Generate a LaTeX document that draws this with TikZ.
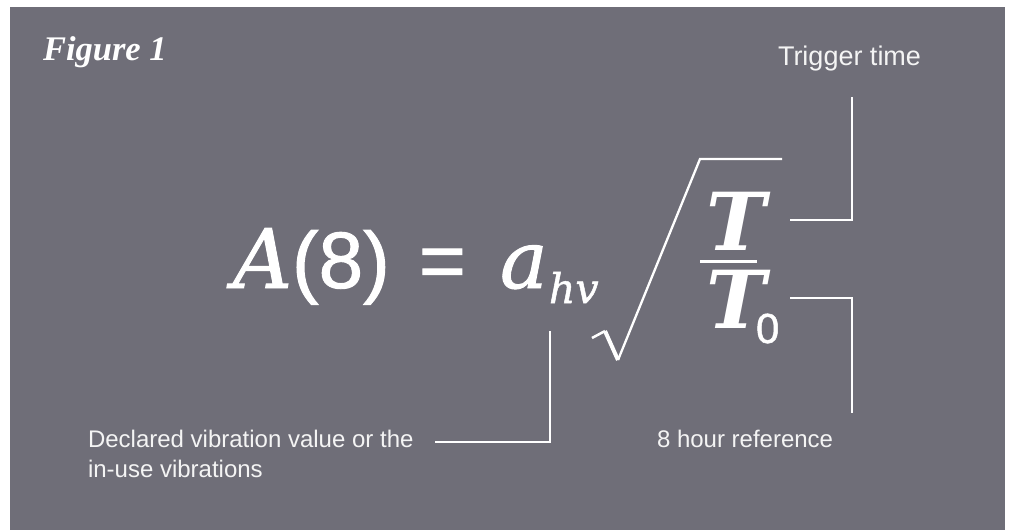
\documentclass[tikz,border=0pt]{standalone}
\usepackage{fontspec}
\setmainfont{Liberation Serif}
\setsansfont{Liberation Sans}
\newfontfamily\eqserif{DejaVu Serif}[ItalicFeatures={FakeBold=1.2}]
\newfontfamily\eqserifbold{DejaVu Serif}
\newfontfamily\titleserif{Liberation Serif}
\newfontfamily\eqsans{Liberation Sans}[FakeBold=1.2]
\definecolor{bggray}{HTML}{6F6E78}
\definecolor{labelwhite}{HTML}{F4F4F4}
\tikzset{
  glyph/.style={inner sep=0pt, outer sep=0pt, anchor=base west, text=white},
  label/.style={inner sep=0pt, outer sep=0pt, anchor=base west, text=labelwhite, font=\sffamily\fontsize{24}{30}\selectfont, align=left},
  leader/.style={draw=white, line width=1.5pt},
}
\begin{document}
\begin{tikzpicture}[x=1pt,y=-1pt]
\useasboundingbox (0,0) rectangle (1009,530);
\fill[white] (0,0) rectangle (1009,530);
\fill[bggray] (10,7) rectangle (1005,530);
% title
\node[glyph, font=\titleserif\bfseries\itshape\fontsize{34.5}{40}\selectfont] (title) at (43,60) {Figure 1};
% equation
\node[glyph, font=\eqserif\itshape\fontsize{82}{90}\selectfont] (A) at (233,288) {A};
\node[glyph, font=\eqsans\fontsize{80}{90}\selectfont] (paren) at (292,288) {(8)};
\node[glyph, font=\eqsans\fontsize{80}{90}\selectfont] (eq) at (419,288) {=};
\node[glyph, font=\eqserif\itshape\fontsize{80}{90}\selectfont] (a) at (500,288) {a};
\node[glyph, font=\eqserif\itshape\fontsize{41}{50}\selectfont] (hv) at (549,303) {hv};
\coordinate (s0) at (592,338);
\coordinate (s1) at (605,331);
\coordinate (s2) at (618,360);
\coordinate (s3) at (700,159);
\coordinate (s4) at (782,159);
\draw[white, line width=2.5pt, line join=miter] (s0) -- (s1);
\draw[white, line width=4pt] (s1) -- (s2);
\draw[white, line width=2.3pt, line join=miter] (s2) -- (s3) -- (s4);
\node[glyph, font=\eqserifbold\bfseries\itshape\fontsize{80}{90}\selectfont] (Tn) at (706,250) {\makebox[48pt][l]{T}};
\coordinate (b0) at (700,261);
\coordinate (b1) at (757,261);
\draw[white, line width=3pt] (b0) -- (b1);
\node[glyph, font=\eqserifbold\bfseries\itshape\fontsize{80}{90}\selectfont] (Td) at (706,328) {\makebox[48pt][l]{T}};
\node[glyph, font=\eqsans\fontsize{42}{44}\selectfont] (zero) at (756,343) {0};
% labels
\node[label, font=\sffamily\fontsize{27}{30}\selectfont] (trig) at (778,65) {Trigger time};
\node[label] (ref) at (657,447) {8 hour reference};
\node[label] (decl) at (88,477) {Declared vibration value or the\\in-use vibrations};
% leaders
\coordinate (t0) at (790,220);
\coordinate (t1) at (852,97);
\draw[leader] (t0) -| (t1);
\coordinate (r0) at (790,298);
\coordinate (r1) at (852,413);
\draw[leader] (r0) -| (r1);
\coordinate (d0) at (550,331);
\coordinate (d1) at (435,442);
\draw[leader] (d0) |- (d1);
\end{tikzpicture}
\end{document}
